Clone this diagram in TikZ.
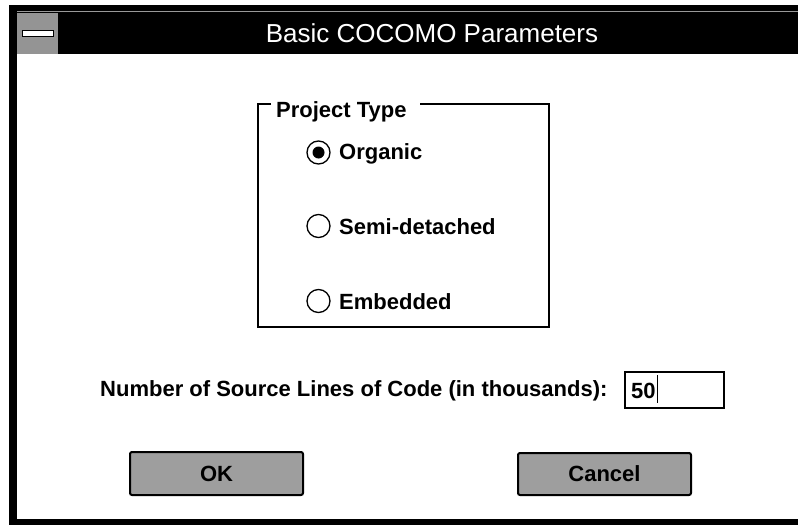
\documentclass[tikz,border=0pt]{standalone}
\usepackage{fontspec}
\setmainfont{Liberation Sans}
\begin{document}
\begin{tikzpicture}[x=1pt,y=-1pt,
  lbl/.style={font=\fontsize{22}{26}\selectfont\bfseries, inner sep=0pt},
  radio/.style={draw=black, line width=1.3pt, circle, minimum size=23pt, inner sep=0pt},
  btn/.style={draw=black, line width=2pt, rounded corners=2pt, fill=black!38},
  btntext/.style={font=\fontsize{22}{26}\selectfont\bfseries, text=black, inner sep=0pt}]
\useasboundingbox (0,0) rectangle (798,525);
\fill[white] (0,0) rectangle (798,525);
% window frame
\fill[black] (9,5) rectangle (17,525);
\fill[black] (9,519) rectangle (798,525);
% title bar
\fill[black] (9,5) rectangle (798,54);
\draw[black!40, line width=0.8pt] (17,11.5) -- (798,11.5);
% system menu box
\node[fill=black!42, minimum width=41pt, minimum height=41pt, inner sep=0pt, anchor=north west] (sysmenu) at (17,12.5) {};
\node[draw=black, fill=white, line width=1pt, minimum width=31pt, minimum height=6pt, inner sep=0pt] (sysbar) at (sysmenu.center) {};
\node[text=white, font=\fontsize{26}{30}\selectfont, inner sep=0pt] (title) at (432,33) {Basic COCOMO Parameters};
% group box
\coordinate (gtl) at (258,104);
\coordinate (gtr) at (549,104);
\coordinate (gbl) at (258,327);
\coordinate (gbr) at (549,327);
\node[lbl, anchor=base west] (gtitle) at (276,117) {Project Type};
\draw[line width=1.3pt] (271,104) -- (gtl) -- (gbl) -- (gbr) -- (gtr) -- (420,104);
% radio buttons
\node[radio] (r1) at (318.5,152.5) {};
\fill[black] (r1.center) circle (6pt);
\node[radio] (r2) at (318.5,226) {};
\node[radio] (r3) at (318.5,301) {};
\node[lbl, anchor=west] (t1) at (339,153.5) {Organic};
\node[lbl, anchor=west] (t2) at (339,227) {Semi-detached};
\node[lbl, anchor=west] (t3) at (339,302) {Embedded};
% number field
\node[lbl, anchor=west] (numlbl) at (100,391) {Number of Source Lines of Code (in thousands):};
\node[draw=black, line width=1.6pt, minimum width=99pt, minimum height=36pt, inner sep=0pt] (field) at (674.5,390) {};
\node[lbl, anchor=west] (fieldtext) at (631,391) {50};
\draw[line width=1.2pt] ([xshift=1.5pt]fieldtext.east |- field.north) ++(0,4) -- ++(0,28);
% buttons
\node[btn, minimum width=173pt, minimum height=43pt, inner sep=0pt] (ok) at (216.5,473.5) {};
\node[btntext] (oktext) at (ok.center) {OK};
\node[btn, minimum width=173pt, minimum height=42pt, inner sep=0pt] (cancel) at (604.5,474) {};
\node[btntext] (canceltext) at (cancel.center) {Cancel};
\end{tikzpicture}
\end{document}
